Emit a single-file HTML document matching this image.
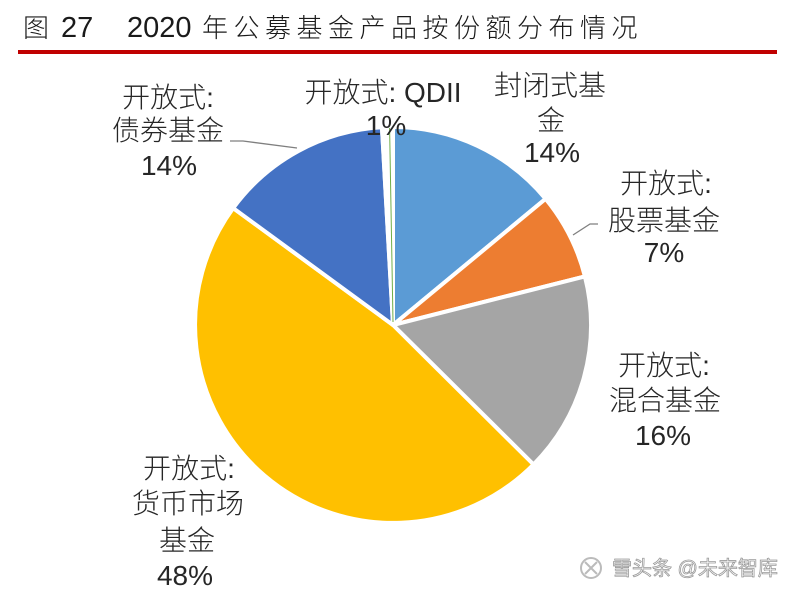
<!DOCTYPE html>
<html>
<head>
<meta charset="utf-8">
<style>
  html,body{margin:0;padding:0;background:#ffffff;}
  svg{display:block;}
  .lbl{font-family:"Liberation Sans","Noto Sans CJK SC",sans-serif;font-size:28px;fill:#262626;font-weight:300;}
  .ttl{font-family:"Liberation Sans","Noto Sans CJK SC",sans-serif;fill:#1a1a1a;font-weight:300;}
  .wm{font-family:"Liberation Sans","Noto Sans CJK SC",sans-serif;}
</style>
</head>
<body>
<svg width="793" height="595" viewBox="0 0 793 595" xmlns="http://www.w3.org/2000/svg">
  <rect x="0" y="0" width="793" height="595" fill="#ffffff"/>

  <!-- Title -->
  <text class="ttl" x="23" y="37" font-size="26">图</text>
  <text class="ttl" x="61" y="37" font-size="29">27</text>
  <text class="ttl" x="127" y="37" font-size="29">2020</text>
  <text class="ttl" x="202" y="37" font-size="26" letter-spacing="5.5">年公募基金产品按份额分布情况</text>
  <rect x="18" y="50" width="759" height="4" fill="#C00000"/>

  <!-- Pie -->
  <g stroke="#ffffff" stroke-width="4" stroke-linejoin="round">
    <path d="M393,325 L393,127 A198,198 0 0 1 545.6,198.8 Z" fill="#5B9BD5"/>
    <path d="M393,325 L545.6,198.8 A198,198 0 0 1 584.9,276.4 Z" fill="#ED7D31"/>
    <path d="M393,325 L584.9,276.4 A198,198 0 0 1 533.5,464.5 Z" fill="#A5A5A5"/>
    <path d="M393,325 L533.5,464.5 A198,198 0 0 1 233.2,208.1 Z" fill="#FFC000"/>
    <path d="M393,325 L233.2,208.1 A198,198 0 0 1 381.95,127.3 Z" fill="#4472C4"/>
    <path d="M393,325 L381.95,127.3 A198,198 0 0 1 393,127 Z" fill="#ffffff"/>
  </g>
  <line x1="393" y1="322" x2="389.6" y2="128" stroke="#70AD47" stroke-width="1"/>

  <!-- Leader lines -->
  <polyline points="230,141 243,141 297,148" fill="none" stroke="#7f7f7f" stroke-width="1.3"/>
  <polyline points="573,235 590,224 598,224" fill="none" stroke="#7f7f7f" stroke-width="1.3"/>

  <!-- Labels -->
  <g class="lbl" text-anchor="middle">
    <text x="383" y="102">开放式: QDII</text>
    <text x="386" y="135">1%</text>

    <text x="550" y="95">封闭式基</text>
    <text x="551" y="130">金</text>
    <text x="552" y="162">14%</text>

    <text x="666" y="193">开放式:</text>
    <text x="664" y="230">股票基金</text>
    <text x="664" y="262">7%</text>

    <text x="664" y="375">开放式:</text>
    <text x="665" y="410">混合基金</text>
    <text x="663" y="445">16%</text>

    <text x="168" y="107">开放式:</text>
    <text x="168" y="140">债券基金</text>
    <text x="169" y="175">14%</text>

    <text x="189" y="478">开放式:</text>
    <text x="188" y="513">货币市场</text>
    <text x="187" y="550">基金</text>
    <text x="185" y="585">48%</text>
  </g>

  <!-- Watermark -->
  <circle cx="591" cy="568" r="10" fill="none" stroke="#bbbbbb" stroke-width="2"/>
  <path d="M585,562 L597,574 M597,562 L585,574" stroke="#bbbbbb" stroke-width="2"/>
  <text class="wm" x="612" y="575" font-size="20" fill="#ffffff" stroke="#9a9a9a" stroke-width="0.8">雪头条 @未来智库</text>
</svg>
</body>
</html>
